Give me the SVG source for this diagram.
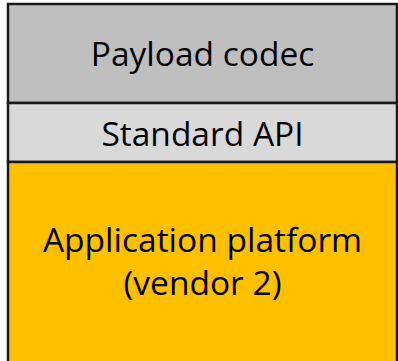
<svg xmlns="http://www.w3.org/2000/svg" width="398" height="361" viewBox="0 0 398 361">
<style>
.box{stroke:#1a1a1a;stroke-width:2.5}
.t{font-family:"Open Sans","Liberation Sans",sans-serif;font-size:33.5px;fill:#000;text-anchor:middle}
</style>
<rect width="398" height="361" fill="#fff"/>
<g id="payload-codec">
<rect class="box" x="8" y="4" width="389" height="99" fill="#BFBFBF"/>
<text class="t" x="202.5" y="66">Payload codec</text>
</g>
<g id="standard-api">
<rect class="box" x="8" y="103" width="389" height="59" fill="#D9D9D9"/>
<text class="t" x="202.5" y="146">Standard API</text>
</g>
<g id="application-platform">
<rect class="box" x="8" y="162" width="389" height="202" fill="#FFC000"/>
<text class="t" x="202.5" y="252">Application platform</text>
<text class="t" x="202.5" y="295">(vendor 2)</text>
</g>
<g id="connectors"/>
</svg>
